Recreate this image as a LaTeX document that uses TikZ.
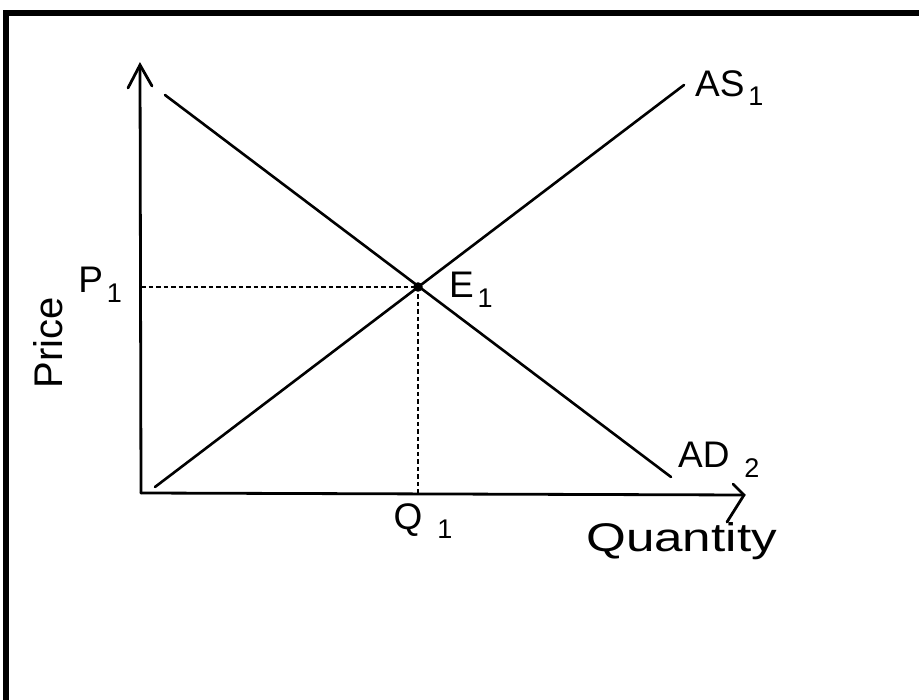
\documentclass[tikz,border=0pt]{standalone}
\usepackage{fontspec}
\setmainfont{Liberation Sans}
\newcommand{\lowsub}[1]{\kern0.1em\raisebox{-0.5ex}{\fontsize{27}{27}\selectfont #1}}
\begin{document}
\begin{tikzpicture}[x=1pt,y=-1pt,
  axis/.style={line width=2.8pt, line cap=round},
  curve/.style={line width=2.6pt, line cap=round},
  guide/.style={line width=1.6pt, dash pattern=on 4.5pt off 3pt},
  lab/.style={inner sep=0pt, font=\fontsize{37}{37}\selectfont},
  bigtext/.style={inner sep=0pt, font=\fontsize{40}{40}\selectfont}]
\useasboundingbox (0,0) rectangle (919,700);
\fill[white] (0,0) rectangle (919,700);
% frame
\draw[line width=6pt] (6,703) -- (6,13) -- (922,13);
% coordinates
\coordinate (O) at (141,493);
\coordinate (ytip) at (140,65);
\coordinate (xtip) at (744,495);
\coordinate (yl) at (128,88);
\coordinate (yr) at (152,86);
\coordinate (xu) at (733,484);
\coordinate (xd) at (727,522);
\coordinate (ASs) at (155,487);
\coordinate (ASe) at (684,85);
\coordinate (ADs) at (165,95);
\coordinate (ADe) at (671,477);
\coordinate (E) at (418,287);
\coordinate (Pf) at (141,287);
\coordinate (Qf) at (418,493);
% axes
\draw[axis] (O) -- (ytip);
\draw[axis] (yl) -- (ytip) -- (yr);
\draw[axis] (O) -- (xtip);
\draw[axis] (xu) -- (xtip) -- (xd);
% curves
\draw[curve] (ASs) -- (ASe);
\draw[curve] (ADs) -- (ADe);
% guides
\draw[guide] (Pf) -- (E);
\draw[guide] (E) -- (Qf);
\fill (E) circle (4.8);
% labels
\node[lab, anchor=west] (as) at (695,88) {AS\lowsub{1}};
\node[lab, anchor=west] (ad) at (678,460) {AD\kern0.3em\lowsub{2}};
\node[lab, anchor=west] (e1) at (449,290) {E\lowsub{1}};
\node[lab, anchor=east] (p1) at (122,285) {P\lowsub{1}};
\node[lab, anchor=north] (q1) at (423,503) {Q\kern0.3em\lowsub{1}};
\node[bigtext, anchor=north west] (qty) at (586,522) {\scalebox{1.28}[1]{Quantity}};
\node[bigtext, rotate=90] (price) at (48,343) {Price};
\end{tikzpicture}
\end{document}
